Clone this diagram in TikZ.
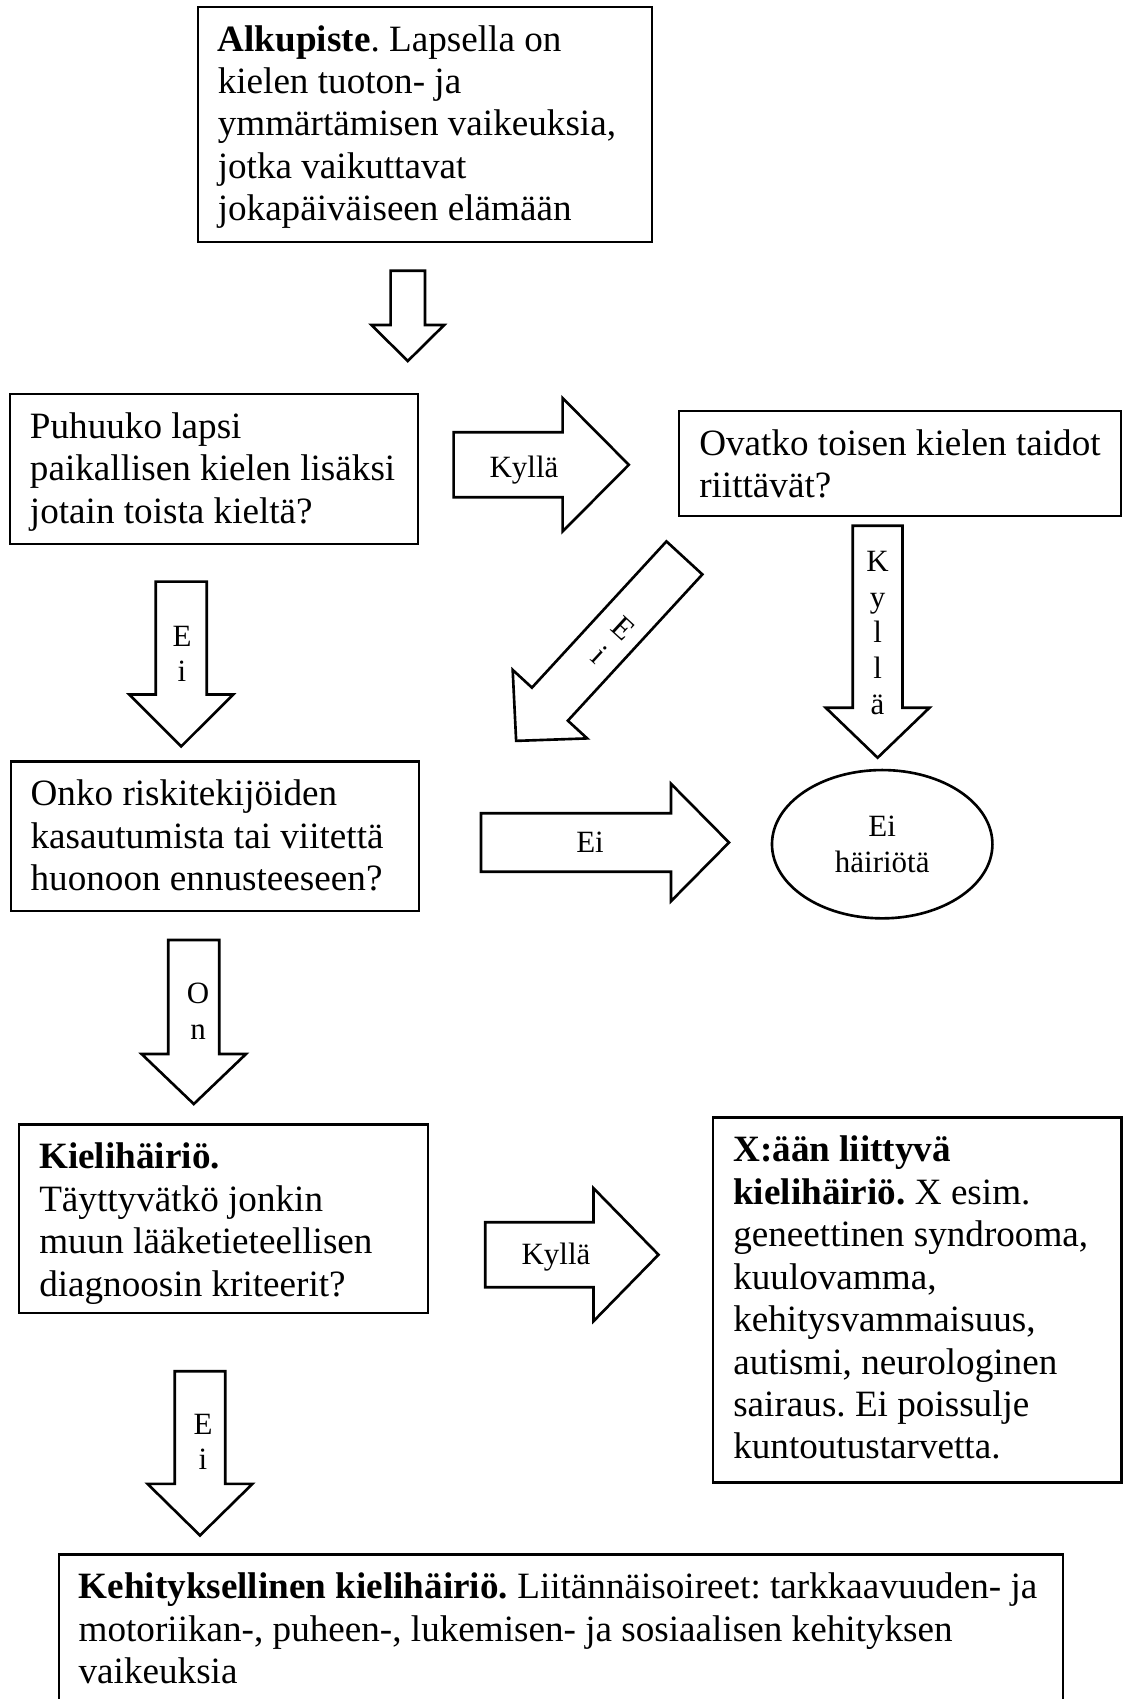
\documentclass[tikz,border=0pt]{standalone}
\usepackage{fontspec}
\setmainfont{Liberation Serif}
\usetikzlibrary{fit}
\usetikzlibrary{shapes.geometric}
\newcommand{\tuki}{\rule{0pt}{10.9pt}}
\frenchspacing

\begin{document}
\begin{tikzpicture}[x=0.323pt,y=0.323pt,
  laatikko/.style={draw, line width=0.7pt, inner sep=0pt},
  teksti/.style={anchor=north west, inner xsep=6.6pt, inner ysep=3.6pt, align=left, font=\fontsize{12}{13.7}\selectfont},
  merkki/.style={align=center, inner sep=0pt, font=\fontsize{10}{11.5}\selectfont}]
\useasboundingbox (0,0) rectangle (1132,-1699);
\clip (0,0) rectangle (1132,-1699);
\node [laatikko, fit={(197.8,-6.7) (651.8,-242.3)}] (alku) {};
\node [teksti] (alkut) at (alku.north west) {\tuki\textbf{Alkupiste}. Lapsella on\\kielen tuoton- ja\\ymmärtämisen vaikeuksia,\\jotka vaikuttavat\\jokapäiväiseen elämään};
\node [laatikko, fit={(10,-394) (418,-544)}] (puhuuko) {};
\node [teksti] (puhuukot) at (puhuuko.north west) {\tuki Puhuuko lapsi\\paikallisen kielen lisäksi\\jotain toista kieltä?};
\node [laatikko, fit={(679.3,-410.7) (1121,-516.3)}] (ovatko) {};
\node [teksti] (ovatkot) at (ovatko.north west) {\tuki Ovatko toisen kielen taidot\\riittävät?};
\node [laatikko, fit={(10.7,-761.5) (418.7,-911.3)}] (onko) {};
\node [teksti] (onkot) at (onko.north west) {\tuki Onko riskitekijöiden\\kasautumista tai viitettä\\huonoon ennusteeseen?};
\node [laatikko, fit={(19.3,-1124.5) (428.3,-1313)}] (kieli) {};
\node [teksti] (kielit) at (kieli.north west) {\tuki\textbf{Kielihäiriö.}\\Täyttyvätkö jonkin\\muun lääketieteellisen\\diagnoosin kriteerit?};
\node [laatikko, fit={(713.3,-1117.5) (1121.5,-1482.5)}] (xaan) {};
\node [teksti] (xaant) at (xaan.north west) {\tuki\textbf{X:ään liittyvä}\\\textbf{kielihäiriö.} X esim.\\geneettinen syndrooma,\\kuulovamma,\\kehitysvammaisuus,\\autismi, neurologinen\\sairaus. Ei poissulje\\kuntoutustarvetta.};
\node [laatikko, fit={(58.7,-1554.5) (1063,-1720)}] (kehit) {};
\node [teksti] (kehitt) at (kehit.north west) {\tuki\textbf{Kehityksellinen kielihäiriö.} Liitännäisoireet: tarkkaavuuden- ja\\motoriikan-, puheen-, lukemisen- ja sosiaalisen kehityksen\\vaikeuksia};
\node [draw, ellipse, line width=0.85pt, minimum width=71.2pt, minimum height=47.9pt, merkki] (eihairiota) at (882.2,-844.2) {Ei\\häiriötä};
\foreach \x/\y/\k/\l/\w/\t/\h in {407.8/-270.7/-90/54.3/17.2/36/36.4, 453.6/-464.8/0/109/32.5/66.2/66.7, 181.2/-581.6/-90/112.9/25.5/51.9/52, 877.6/-525.7/-90/182/24.9/50/51.9, 684.4/-557.9/-132.6/198.7/24.4/49.9/50.6, 481/-842.5/0/190/29.2/58/58.7, 193.8/-940/-90/114/25.5/50/52.2, 485.2/-1254.7/0/108.3/32.5/65/66.5, 200/-1371.2/-90/112.7/25.3/51.5/52.4}
  {\draw [line width=0.85pt, shift={(\x,\y)}, rotate=\k] (0,\w)--(\l,\w)--(\l,\h)--({\l+\t},0)--(\l,-\h)--(\l,-\w)--(0,-\w)--cycle;}
\node [merkki] (kylla1) at (524,-470) {Kyllä};
\node [merkki] (ei1) at (182,-654) {E\\i};
\node [merkki] (kylla2) at (877.6,-633) {K\\y\\l\\l\\ä};
\node [merkki, rotate=-42.6] (ei2) at (611.4,-641.7) {E\\i};
\node [merkki] (ei3) at (590,-842.5) {Ei};
\node [merkki] (on) at (198,-1011) {O\\n};
\node [merkki] (kylla3) at (556,-1257) {Kyllä};
\node [merkki] (ei4) at (203,-1442) {E\\i};
\end{tikzpicture}
\end{document}
